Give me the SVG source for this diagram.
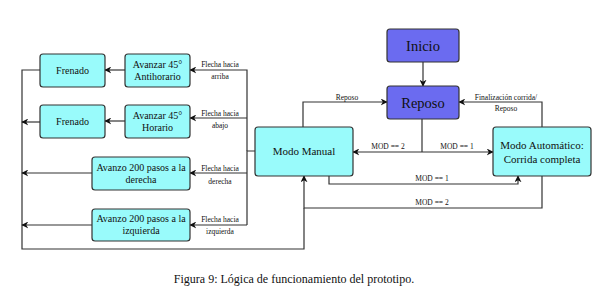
<svg xmlns="http://www.w3.org/2000/svg" width="604" height="294" viewBox="0 0 604 294">
<style>
.c{fill:#99fbfb;stroke:#333;stroke-width:1.2}
.b{fill:#6b6bf0;stroke:#333;stroke-width:1.2}
.t{font-family:"Liberation Serif","Times New Roman",serif;fill:#111;text-anchor:middle}
.s{font-size:10px}
.m{font-size:11px}
.l{font-size:14.5px}
.e{font-size:7.5px}
.w{fill:none;stroke:#333;stroke-width:1.2}
</style>
<defs>
<marker id="a" viewBox="0 0 10 10" refX="9" refY="5" markerWidth="7" markerHeight="7" orient="auto" markerUnits="userSpaceOnUse">
<path d="M0,0 L10,5 L0,10 L3,5 Z" fill="#111"/>
</marker>
</defs>
<g id="connectors">
<path class="w" d="M423,62 V86" marker-end="url(#a)"/>
<path class="w" d="M303,128 V102 H387" marker-end="url(#a)"/>
<path class="w" d="M542,127 V102 H459" marker-end="url(#a)"/>
<path class="w" d="M422,119 V152"/>
<path class="w" d="M422,152 H353" marker-end="url(#a)"/>
<path class="w" d="M422,152 H493" marker-end="url(#a)"/>
<path class="w" d="M329,176 V184 H518 V176" marker-end="url(#a)"/>
<path class="w" d="M542,176 V208 H304 V176" marker-end="url(#a)"/>
<path class="w" d="M255,151 H247 V225"/>
<path class="w" d="M247,151 V70 H190" marker-end="url(#a)"/>
<path class="w" d="M247,118 H190" marker-end="url(#a)"/>
<path class="w" d="M247,173 H190" marker-end="url(#a)"/>
<path class="w" d="M247,225 H190" marker-end="url(#a)"/>
<path class="w" d="M125,70 H105" marker-end="url(#a)"/>
<path class="w" d="M125,121 H105" marker-end="url(#a)"/>
<path class="w" d="M40,70 H22 V249 H304 V208"/>
<path class="w" d="M40,122 H22" marker-end="url(#a)"/>
<path class="w" d="M92,173 H22" marker-end="url(#a)"/>
<path class="w" d="M92,225 H22" marker-end="url(#a)"/>
<g class="t e">
<text x="347" y="99.5">Reposo</text>
<text x="506" y="99.5">Finalización corrida/</text>
<text x="506" y="110.5">Reposo</text>
<text x="388" y="149">MOD == 2</text>
<text x="457" y="149">MOD == 1</text>
<text x="432" y="181">MOD == 1</text>
<text x="432" y="205">MOD == 2</text>
<text x="220" y="66.5">Flecha hacia</text>
<text x="220" y="78.7">arriba</text>
<text x="220" y="115.5">Flecha hacia</text>
<text x="220" y="127.7">abajo</text>
<text x="220" y="170.5">Flecha hacia</text>
<text x="220" y="183.5">derecha</text>
<text x="220" y="221.7">Flecha hacia</text>
<text x="220" y="233.7">izquierda</text>
</g>
</g>
<g id="inicio"><rect class="b" x="387" y="29" width="72" height="33" rx="3"/><text class="t l" x="423" y="51">Inicio</text></g>
<g id="reposo"><rect class="b" x="387" y="86" width="72" height="33" rx="3"/><text class="t l" x="423" y="108">Reposo</text></g>
<g id="modo-manual"><rect class="c" x="255" y="127" width="98" height="49" rx="3"/><text class="t m" x="304" y="155">Modo Manual</text></g>
<g id="modo-auto"><rect class="c" x="493" y="127" width="98" height="49" rx="3"/><text class="t m" x="542" y="149">Modo Automático:</text><text class="t m" x="542" y="163">Corrida completa</text></g>
<g id="frenado1"><rect class="c" x="40" y="54" width="65" height="33" rx="3"/><text class="t s" x="72.5" y="74">Frenado</text></g>
<g id="antihorario"><rect class="c" x="125" y="54" width="65" height="33" rx="3"/><text class="t s" x="157.5" y="68">Avanzar 45°</text><text class="t s" x="157.5" y="80">Antihorario</text></g>
<g id="frenado2"><rect class="c" x="40" y="105" width="65" height="33" rx="3"/><text class="t s" x="72.5" y="125">Frenado</text></g>
<g id="horario"><rect class="c" x="125" y="105" width="65" height="33" rx="3"/><text class="t s" x="157.5" y="119">Avanzar 45°</text><text class="t s" x="157.5" y="131">Horario</text></g>
<g id="derecha"><rect class="c" x="92" y="157" width="98" height="33" rx="3"/><text class="t s" x="141" y="171">Avanzo 200 pasos a la</text><text class="t s" x="141" y="183">derecha</text></g>
<g id="izquierda"><rect class="c" x="92" y="209" width="98" height="32" rx="3"/><text class="t s" x="141" y="222">Avanzo 200 pasos a la</text><text class="t s" x="141" y="234">izquierda</text></g>
<text class="t" x="294" y="283" font-size="12">Figura 9: Lógica de funcionamiento del prototipo.</text>
</svg>
